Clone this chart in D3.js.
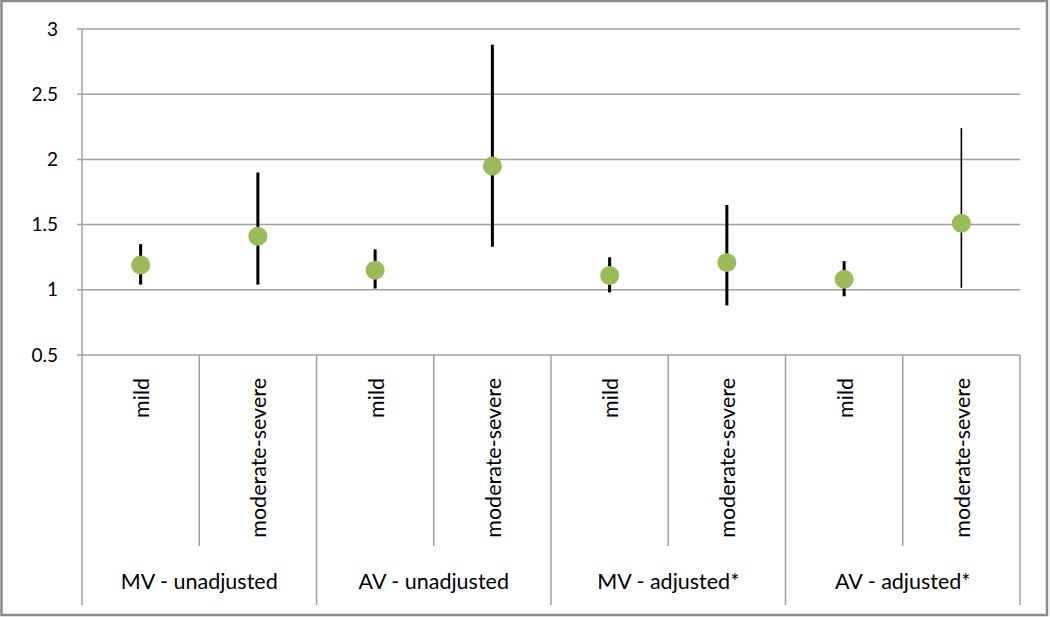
<!DOCTYPE html>
<html>
<head>
<meta charset="utf-8">
<script src="https://cdn.jsdelivr.net/npm/d3@7"></script>
<style>
  html, body { margin: 0; padding: 0; background: #fff; }
  svg { display: block; }
  text { font-family: Lato, "Open Sans", sans-serif; fill: #000; }
</style>
</head>
<body>
<svg id="chart" width="1050" height="617"></svg>
<script>
// data
var groups = ["MV - unadjusted", "AV - unadjusted", "MV - adjusted*", "AV - adjusted*"];
var severities = ["mild", "moderate-severe"];
var estimates = [1.19, 1.41, 1.15, 1.95, 1.11, 1.21, 1.08, 1.51];
var lowers    = [1.04, 1.04, 1.01, 1.33, 0.98, 0.88, 0.95, 1.015];
var uppers    = [1.35, 1.90, 1.31, 2.88, 1.25, 1.65, 1.22, 2.24];
var yTicks = [0.5, 1, 1.5, 2, 2.5, 3];

var W = 1050, H = 617;
var plotLeft = 82, plotRight = 1020, plotTop = 29, plotBottom = 355;

var svg = d3.select("#chart");

// outer frame
svg.append("rect")
  .attr("x", 1.5).attr("y", 1)
  .attr("width", W - 4.5).attr("height", H - 3)
  .attr("fill", "#fff")
  .attr("stroke", "#8c8c8c")
  .attr("stroke-width", 2.5);

var cats = [];
groups.forEach(function (g, gi) {
  severities.forEach(function (s, si) {
    var i = gi * severities.length + si;
    cats.push({ key: i, group: g, sev: s, est: estimates[i], lo: lowers[i], hi: uppers[i] });
  });
});

var x = d3.scaleBand()
  .domain(cats.map(d => d.key))
  .range([plotLeft, plotRight])
  .padding(0);

var y = d3.scaleLinear()
  .domain([0.5, 3])
  .range([plotBottom, plotTop]);

// gridlines
svg.selectAll(".grid")
  .data(yTicks)
  .enter()
  .append("line")
  .attr("class", "grid")
  .attr("x1", plotLeft - 5)
  .attr("x2", plotRight)
  .attr("y1", d => y(d))
  .attr("y2", d => y(d))
  .attr("stroke", "#a0a0a0")
  .attr("stroke-width", 1.5);

// y labels
svg.selectAll(".ylab")
  .data(yTicks)
  .enter()
  .append("text")
  .attr("class", "ylab")
  .attr("x", 58)
  .attr("y", d => y(d))
  .attr("dy", "0.35em")
  .attr("text-anchor", "end")
  .style("font-size", "19px")
  .text(d => d);

// category table lines
svg.selectAll(".sep")
  .data(d3.range(cats.length + 1))
  .enter()
  .append("line")
  .attr("class", "sep")
  .attr("x1", i => i < cats.length ? x(i) : plotRight)
  .attr("x2", i => i < cats.length ? x(i) : plotRight)
  .attr("y1", i => i == 0 ? plotTop : plotBottom)
  .attr("y2", i => i % 2 == 0 ? 605 : 546)
  .attr("stroke", "#a0a0a0")
  .attr("stroke-width", 1.5);

// severity labels (rotated)
svg.selectAll(".sevlab")
  .data(cats)
  .enter()
  .append("text")
  .attr("class", "sevlab")
  .attr("text-anchor", "end")
  .attr("dy", "0.35em")
  .attr("transform", d => "translate(" + (x(d.key) + x.bandwidth() / 2 + 1) + "," + 378 + ") rotate(-90)")
  .style("font-size", "21.5px")
  .text(d => d.sev);

// group labels
svg.selectAll(".grplab")
  .data(groups)
  .enter()
  .append("text")
  .attr("class", "grplab")
  .attr("x", (d, i) => x(i * 2) + x.bandwidth())
  .attr("y", 581)
  .attr("dy", "0.35em")
  .attr("text-anchor", "middle")
  .style("font-size", "21.5px")
  .text(d => d);

// error bars
svg.selectAll(".err")
  .data(cats)
  .enter()
  .append("line")
  .attr("class", "err")
  .attr("x1", d => x(d.key) + x.bandwidth() / 2)
  .attr("x2", d => x(d.key) + x.bandwidth() / 2)
  .attr("y1", d => y(d.lo))
  .attr("y2", d => y(d.hi))
  .attr("stroke", "#000")
  .attr("stroke-width", d => d.key == 7 ? 1.6 : 3);

// points
svg.selectAll(".pt")
  .data(cats)
  .enter()
  .append("circle")
  .attr("class", "pt")
  .attr("cx", d => x(d.key) + x.bandwidth() / 2)
  .attr("cy", d => y(d.est))
  .attr("r", 9.5)
  .attr("fill", "#9bbb59");
</script>
</body>
</html>
